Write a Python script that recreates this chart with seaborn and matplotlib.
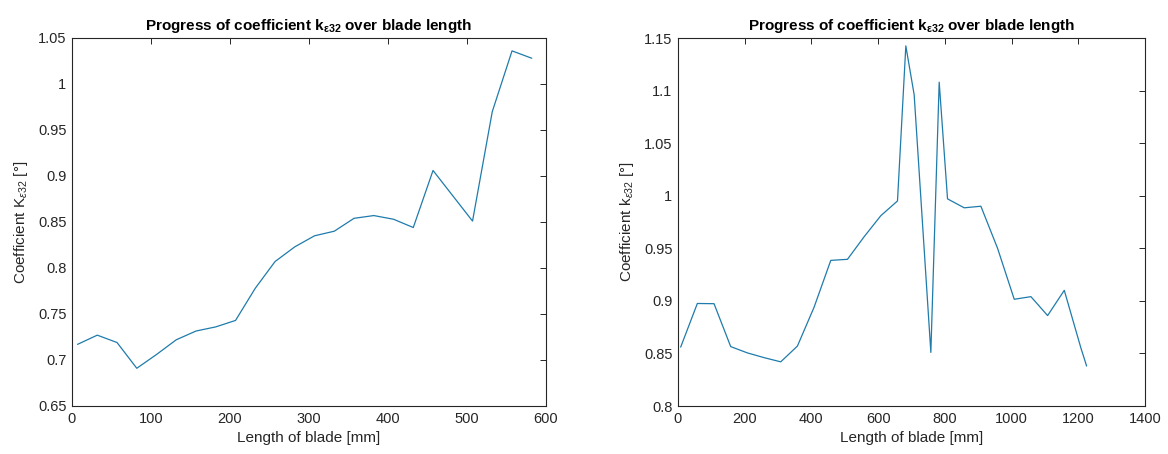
import numpy as np
import pandas as pd
import matplotlib
matplotlib.use("Agg")
import matplotlib.pyplot as plt
import seaborn as sns
from matplotlib.ticker import FuncFormatter

# Coefficient k_eps32 along the shorter blade
blade1_length = [7, 32, 57, 82, 107, 132, 157, 182, 207, 232, 257, 282,
                 307, 332, 357, 382, 407, 432, 457, 507, 532, 557, 582]
blade1_coeff = [0.717, 0.727, 0.719, 0.691, 0.706, 0.722, 0.7315, 0.736,
                0.743, 0.778, 0.807, 0.823, 0.835, 0.840, 0.854, 0.857,
                0.853, 0.844, 0.906, 0.851, 0.970, 1.036, 1.028]

# Coefficient k_eps32 along the longer blade
blade2_length = [8, 58, 108, 158, 208, 258, 308, 358, 408, 458, 508, 558,
                 608, 658, 683, 708, 758, 783, 808, 858, 908, 958, 1008,
                 1058, 1108, 1158, 1208, 1225]
blade2_coeff = [0.856, 0.8975, 0.8973, 0.8565, 0.8505, 0.846, 0.842, 0.857,
                0.894, 0.9385, 0.9395, 0.961, 0.981, 0.995, 1.1425, 1.096,
                0.851, 1.108, 0.997, 0.9885, 0.990, 0.950, 0.9015, 0.904,
                0.886, 0.910, 0.855, 0.838]

titles = [r"Progress of coefficient k$_{\mathbf{\epsilon32}}$ over blade length",
          r"Progress of coefficient k$_{\mathbf{\epsilon32}}$ over blade length"]
ylabels = [r"Coefficient K$_{\epsilon32}$ [°]", r"Coefficient k$_{\epsilon32}$ [°]"]
xlabel = "Length of blade [mm]"

sns.set_theme(style="white")
plt.rcParams["font.family"] = ["Liberation Sans", "DejaVu Sans"]
plt.rcParams["mathtext.fontset"] = "custom"
plt.rcParams["mathtext.rm"] = "Liberation Sans"
plt.rcParams["mathtext.it"] = "Liberation Sans:italic"
plt.rcParams["mathtext.bf"] = "Liberation Sans:bold"

INK = "#262626"
LINE = "#1f7bab"

fig = plt.figure(figsize=(11.68, 4.54), dpi=100)
ax1 = fig.add_axes([72 / 1168, 48 / 454, 474 / 1168, 368 / 454])
ax2 = fig.add_axes([678 / 1168, 48 / 454, 467 / 1168, 368 / 454])

df1 = pd.DataFrame({"length": blade1_length, "coeff": blade1_coeff})
df2 = pd.DataFrame({"length": blade2_length, "coeff": blade2_coeff})

sns.lineplot(data=df1, x="length", y="coeff", ax=ax1, color=LINE, linewidth=0.9)
sns.lineplot(data=df2, x="length", y="coeff", ax=ax2, color=LINE, linewidth=0.9)

fmt = FuncFormatter(lambda v, p: f"{round(v, 4):g}")

setup = [
    (ax1, (0, 600), np.arange(0, 601, 100), (0.65, 1.05), np.arange(0.65, 1.0501, 0.05)),
    (ax2, (0, 1400), np.arange(0, 1401, 200), (0.8, 1.15), np.arange(0.8, 1.1501, 0.05)),
]
for i, (ax, xl, xt, yl, yt) in enumerate(setup):
    ax.set_xlim(*xl)
    ax.set_xticks(xt)
    ax.set_ylim(*yl)
    ax.set_yticks(yt)
    ax.yaxis.set_major_formatter(fmt)
    ax.xaxis.set_major_formatter(fmt)
    ax.set_title(titles[i], fontsize=11, fontweight="bold", color="black", pad=6)
    ax.set_xlabel(xlabel, fontsize=11, color=INK, labelpad=4)
    ax.set_ylabel(ylabels[i], fontsize=11, color=INK, labelpad=6)
    ax.tick_params(direction="in", length=4, width=0.7, colors=INK,
                   labelsize=10.5, top=True, right=True, pad=4)
    ax.tick_params(axis="x", labeltop=False)
    ax.tick_params(axis="y", labelright=False)
    for s in ax.spines.values():
        s.set_visible(True)
        s.set_color(INK)
        s.set_linewidth(0.8)
    ax.grid(False)

fig.savefig("out.png", dpi=100, facecolor="white")
